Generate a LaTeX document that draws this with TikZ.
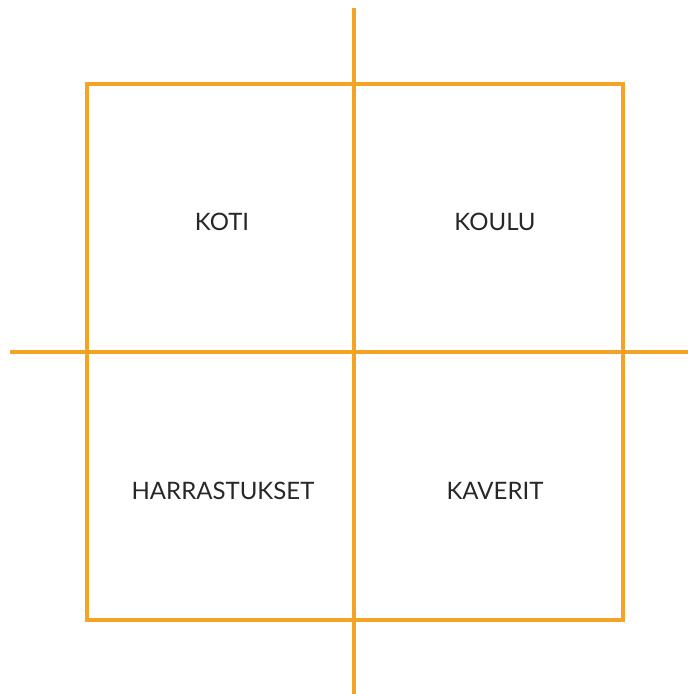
\documentclass[tikz,border=0pt]{standalone}
\usepackage{fontspec}
\setmainfont{Lato}
\usetikzlibrary{positioning}
\definecolor{kehaorange}{RGB}{244,164,36}
\definecolor{kehatext}{RGB}{40,38,40}
\tikzset{
  kline/.style={draw=kehaorange, line width=3.2pt},
  klbl/.style={text=kehatext, font=\fontsize{24}{28}\selectfont, inner sep=0pt},
}
\begin{document}
\begin{tikzpicture}[x=1pt,y=1pt]
        \useasboundingbox (0,0) rectangle (688,694);
        % axes
        \coordinate (vtop) at (354,686);
        \coordinate (vbot) at (354,0);
        \coordinate (hleft) at (10,342);
        \coordinate (hright) at (688,342);
        \draw[kline](vtop)--(vbot);
        \draw[kline](hleft)--(hright);
        % frame
        \coordinate (fsw) at (87,74);
        \coordinate (fne) at (623,610);
        \draw[kline](fsw) rectangle (fne);
        % labels
        \node[klbl](koti) at (222,472){KOTI};
        \node[klbl](koulu) at (495,472){KOULU};
        \node[klbl](harr) at (223,203){HARRASTUKSET};
        \node[klbl](kaverit) at (495,203){KAVERIT};
    \end{tikzpicture}
\end{document}
